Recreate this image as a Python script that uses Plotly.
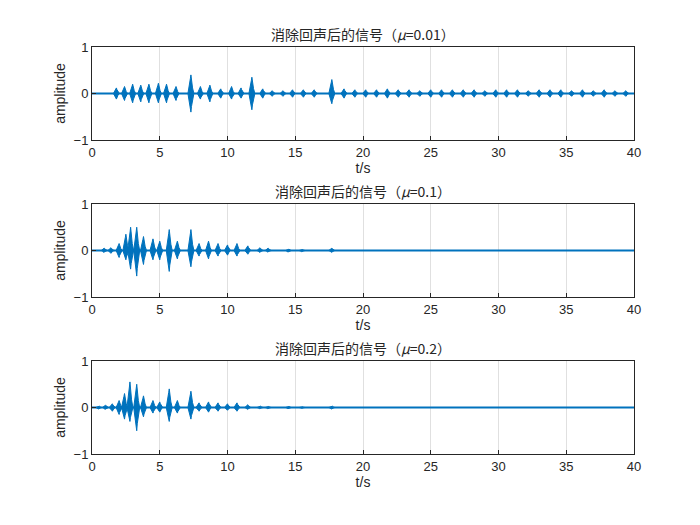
import plotly.graph_objects as go
from plotly.subplots import make_subplots

# burst centres (s), upper and lower envelope amplitudes for each subplot
t1 = [1.8,2.4,3.0,3.6,4.2,4.9,5.5,6.2,7.3,8.0,8.7,9.5,10.3,11.0,11.8,12.6,13.3,14.1,14.8,15.6,16.4,17.7,18.6,19.4,20.2,21.0,21.8,22.6,23.4,24.2,25.0,25.8,26.6,27.4,28.2,29.0,29.8,30.6,31.4,32.2,33.0,33.8,34.6,35.4,36.2,37.0,37.8,38.6,39.4]
hi1 = [0.12,0.15,0.2,0.18,0.2,0.22,0.2,0.15,0.4,0.15,0.18,0.1,0.15,0.12,0.35,0.1,0.06,0.06,0.08,0.08,0.08,0.3,0.1,0.08,0.08,0.08,0.1,0.08,0.08,0.06,0.08,0.08,0.08,0.08,0.08,0.06,0.08,0.08,0.08,0.06,0.08,0.08,0.08,0.06,0.08,0.06,0.08,0.06,0.06]
lo1 = [0.12,0.15,0.2,0.18,0.2,0.2,0.2,0.15,0.4,0.12,0.18,0.1,0.12,0.1,0.35,0.1,0.06,0.06,0.08,0.08,0.08,0.22,0.1,0.08,0.08,0.08,0.1,0.08,0.08,0.06,0.08,0.08,0.08,0.08,0.08,0.06,0.08,0.08,0.08,0.06,0.08,0.08,0.08,0.06,0.08,0.06,0.08,0.06,0.06]

t2 = [0.9,1.4,2.0,2.5,2.85,3.3,3.8,4.5,5.0,5.7,6.3,7.3,7.9,8.6,9.3,10.0,10.7,11.5,12.4,13.0,14.5,15.5,17.7]
hi2 = [0.05,0.06,0.15,0.35,0.5,0.5,0.3,0.25,0.2,0.45,0.2,0.45,0.15,0.2,0.15,0.12,0.15,0.1,0.06,0.05,0.04,0.03,0.05]
lo2 = [0.05,0.06,0.15,0.2,0.4,0.55,0.3,0.2,0.2,0.45,0.18,0.35,0.12,0.18,0.12,0.1,0.12,0.08,0.05,0.04,0.04,0.03,0.05]

t3 = [0.5,1.0,1.5,2.0,2.4,2.8,3.3,3.8,4.5,5.0,5.7,6.3,7.3,7.9,8.6,9.3,10.0,10.7,11.5,12.4,13.0,14.5,15.5,17.7]
hi3 = [0.04,0.05,0.08,0.15,0.3,0.55,0.5,0.25,0.15,0.12,0.4,0.15,0.35,0.1,0.12,0.1,0.08,0.1,0.06,0.04,0.03,0.03,0.02,0.04]
lo3 = [0.04,0.05,0.08,0.15,0.25,0.3,0.5,0.2,0.12,0.1,0.3,0.12,0.25,0.08,0.1,0.08,0.06,0.08,0.05,0.03,0.03,0.03,0.02,0.04]

titles = ["消除回声后的信号（<i>μ</i>=0.01）", "消除回声后的信号（<i>μ</i>=0.1）", "消除回声后的信号（<i>μ</i>=0.2）"]
xticks = [0,5,10,15,20,25,30,35,40]
yticks = [-1,0,1]
C = "#0072BD"
HW = 0.22

fig = make_subplots(rows=3, cols=1)
for r, (ts, hs, ls) in enumerate([(t1,hi1,lo1),(t2,hi2,lo2),(t3,hi3,lo3)], start=1):
    xs, ys = [], []
    for t, h, l in zip(ts, hs, ls):
        xs += [t-HW, t-0.12, t-0.04, t, t+0.04, t+0.12, t+HW, t+0.12, t+0.04, t, t-0.04, t-0.12, t-HW, None]
        ys += [0, h*0.35, h*0.8, h, h*0.7, h*0.3, 0, -l*0.3, -l*0.7, -l, -l*0.8, -l*0.35, 0, None]
    fig.add_trace(go.Scatter(x=xs, y=ys, mode="lines", fill="toself", fillcolor=C,
                             line=dict(color=C, width=1), showlegend=False, hoverinfo="skip"), row=r, col=1)
    fig.add_trace(go.Scatter(x=[0,40], y=[0,0], mode="lines", line=dict(color=C, width=2),
                             showlegend=False), row=r, col=1)

domains = [(0.7715,1.0),(0.3857,0.6143),(0.0,0.2285)]
ax_style = dict(showline=True, mirror=True, linecolor="#262626", linewidth=1, ticks="inside",
                ticklen=4, tickcolor="#262626", zeroline=False,
                tickfont=dict(size=13, color="#262626"))
for i in range(3):
    xa = "xaxis" if i == 0 else f"xaxis{i+1}"
    ya = "yaxis" if i == 0 else f"yaxis{i+1}"
    fig.layout[xa].update(range=[0,40], tickvals=xticks, showgrid=True, gridcolor="#E0E0E0",
                          title=dict(text="t/s", standoff=2, font=dict(size=14, color="#262626")), **ax_style)
    fig.layout[ya].update(range=[-1,1], tickvals=yticks, showgrid=False, domain=list(domains[i]),
                          title=dict(text="amplitude", standoff=4, font=dict(size=14, color="#262626")), **ax_style)
    fig.add_annotation(text=titles[i], xref="paper", yref="paper", x=0.5, y=domains[i][1],
                       yanchor="bottom", xanchor="center", showarrow=False, yshift=1,
                       font=dict(size=14, color="#262626", family="Noto Sans CJK SC, Liberation Sans"))

fig.update_layout(width=700, height=525, margin=dict(l=84, r=74, t=39, b=79),
                  paper_bgcolor="white", plot_bgcolor="white",
                  font=dict(family="Liberation Sans, Arial", color="#262626"))
fig.write_html("out.html")
